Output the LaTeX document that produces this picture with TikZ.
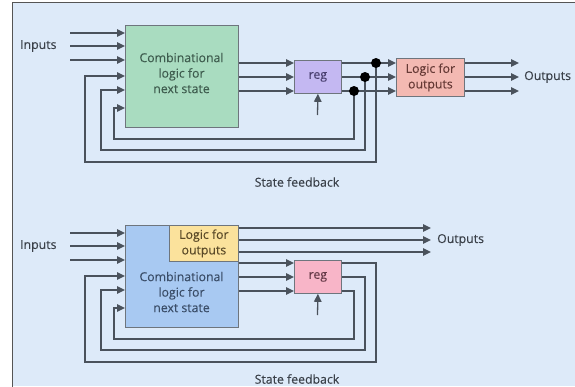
\documentclass[tikz,border=0pt]{standalone}
\usepackage{fontspec}
\setmainfont{Open Sans}[FakeBold=0.15]
\usetikzlibrary{arrows.meta,calc}
\definecolor{bg}{HTML}{DDEAF9}
\definecolor{frame}{HTML}{555555}
\definecolor{ln}{HTML}{4A525C}
\definecolor{txt}{HTML}{3A4049}
\definecolor{cgreen}{HTML}{A9DCC0}
\definecolor{clav}{HTML}{C4B8F2}
\definecolor{csalmon}{HTML}{F3B9B2}
\definecolor{cblue}{HTML}{A8C9F2}
\definecolor{cyellow}{HTML}{FBE29C}
\definecolor{cpink}{HTML}{F8B5C8}
\definecolor{tgreen}{HTML}{3E5C4E}
\definecolor{tlav}{HTML}{4A4070}
\definecolor{tsalmon}{HTML}{663A36}
\definecolor{tblue}{HTML}{3A4D68}
\definecolor{tyellow}{HTML}{5A4A28}
\definecolor{tpink}{HTML}{663A48}
\begin{document}
\begin{tikzpicture}[x=1pt,y=-1pt,
  box/.style={draw=ln!80, line width=0.8pt, inner sep=0pt, align=center,
    font=\fontsize{12.3}{15.5}\selectfont, text=txt, anchor=north west},
  lbl/.style={font=\fontsize{12.3}{15.5}\selectfont, text=txt, inner sep=0pt},
  wire/.style={draw=ln, line width=1.3pt},
  arr/.style={wire, -{Triangle[length=8pt,width=7.5pt]}},
  dot/.style={fill=black}]
\useasboundingbox (0,0) rectangle (575,386);
\clip (0,0) rectangle (575,386);
\fill[bg] (12,2) rectangle (575,386);
\draw[frame, line width=1pt] (12,387) -- (12,2) -- (576,2);

% ---------- top diagram ----------
\node[box, fill=cgreen, minimum width=113pt, minimum height=102pt] (g1) at (125,25) {};
\node[lbl, align=center, text=tgreen] (g1t) at (181.5,73) {Combinational\\logic for\\next state};
\node[box, fill=clav, text=tlav, minimum width=47pt, minimum height=33pt] (r1) at (294,60) {reg};
\node[box, fill=csalmon, text=tsalmon, minimum width=68pt, minimum height=38pt] (o1) at (396,58) {Logic for\\outputs};
\node[lbl, anchor=west] (in1) at (20,46) {Inputs};
\node[lbl, anchor=west] (out1) at (524,77) {Outputs};
\node[lbl] (sf1) at (297,182) {State feedback};

\foreach \y [count=\k] in {33,46,60} {
  \coordinate (a\k) at (70,\y);
  \draw[arr] (a\k) -- (a\k -| g1.west);
}
\foreach \y in {63,77,91} {
  \draw[arr] (g1.east |- 0,\y) -- (r1.west |- 0,\y);
  \draw[arr] (r1.east |- 0,\y) -- (o1.west |- 0,\y);
  \coordinate (e\y) at (519,\y);
  \draw[arr] (o1.east |- e\y) -- (e\y);
}
\coordinate (c1) at (317.5,115);
\draw[arr] (c1) -- (r1.south);

\coordinate (d1) at (376,63);
\coordinate (d2) at (365,77);
\coordinate (d3) at (354,91);
\coordinate (f1) at (85,162);
\coordinate (f2) at (101,150);
\coordinate (f3) at (114,139);
\draw[arr] (d1) |- (f1) |- (g1.west |- 0,76);
\draw[arr] (d2) |- (f2) |- (g1.west |- 0,90);
\draw[arr] (d3) |- (f3) |- (g1.west |- 0,108);
\fill[dot] (d1) circle (5pt);
\fill[dot] (d2) circle (5pt);
\fill[dot] (d3) circle (5pt);

% ---------- bottom diagram ----------
\node[box, fill=cblue, minimum width=113pt, minimum height=102pt] (g2) at (125,225) {};
\node[lbl, align=center, text=tblue] (g2t) at (181.5,292) {Combinational\\logic for\\next state};
\node[box, fill=cyellow, text=tyellow, minimum width=69pt, minimum height=36pt] (y2) at (169,225) {Logic for\\outputs};
\node[box, fill=cpink, text=tpink, minimum width=47pt, minimum height=33pt] (r2) at (294,260) {reg};
\node[lbl, anchor=west] (in2) at (20,246) {Inputs};
\node[lbl, anchor=west] (out2) at (437,240) {Outputs};
\node[lbl] (sf2) at (297,379) {State feedback};

\foreach \y [count=\k] in {233,246,260} {
  \coordinate (b\k) at (70,\y);
  \draw[arr] (b\k) -- (b\k -| g2.west);
}
\foreach \y in {228,240,252} {
  \coordinate (h\y) at (431,\y);
  \draw[arr] (y2.east |- h\y) -- (h\y);
}
\foreach \y in {263,277,291} {
  \draw[arr] (g2.east |- 0,\y) -- (r2.west |- 0,\y);
}
\coordinate (c2) at (317.5,315);
\draw[arr] (c2) -- (r2.south);

\coordinate (k1) at (376,263);
\coordinate (k2) at (365,277);
\coordinate (k3) at (354,291);
\coordinate (m1) at (85,362);
\coordinate (m2) at (101,350);
\coordinate (m3) at (114,339);
\draw[arr] (r2.east |- k1) -- (k1) |- (m1) |- (g2.west |- 0,276);
\draw[arr] (r2.east |- k2) -- (k2) |- (m2) |- (g2.west |- 0,290);
\draw[arr] (r2.east |- k3) -- (k3) |- (m3) |- (g2.west |- 0,308);
\end{tikzpicture}
\end{document}
